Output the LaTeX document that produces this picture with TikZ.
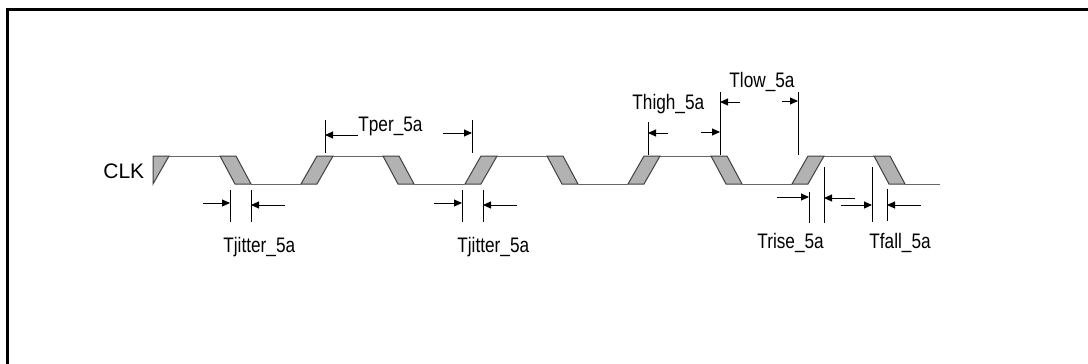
\documentclass[tikz,border=0pt]{standalone}
\usepackage{fontspec}
\setmainfont{Liberation Sans}
\newfontfamily\narrowfont{Liberation Sans}[FakeStretch=0.82]
\usetikzlibrary{arrows.meta}
\begin{document}
\begin{tikzpicture}[x=0.5pt, y=-0.5pt,
	edge/.style={fill=black!30, draw=black!75, line width=0.5pt},
	level/.style={draw=black!60, line width=0.5pt},
	tick/.style={line width=0.5pt},
	dim/.style={line width=0.5pt, -{Triangle[length=4pt,width=3.5pt]}},
	lbl/.style={font=\narrowfont\fontsize{10.5}{12}\selectfont, inner sep=0pt, anchor=base west}]
		\useasboundingbox (0,0) rectangle (1088,364);
		\draw[line width=1.5pt] (7.5,364) -- (7.5,9.5) -- (1088,9.5);
		% clock edges
		\filldraw[edge] (153,156) -- (169,156) -- (153,184) -- cycle;
		\filldraw[edge] (220,156) -- (236,156) -- (251,184) -- (235,184) -- cycle;
		\filldraw[edge] (301,184) -- (317,184) -- (333,156) -- (317,156) -- cycle;
		\filldraw[edge] (383,156) -- (399,156) -- (414,184) -- (398,184) -- cycle;
		\filldraw[edge] (465,184) -- (481,184) -- (497,156) -- (481,156) -- cycle;
		\filldraw[edge] (547,156) -- (563,156) -- (578,184) -- (562,184) -- cycle;
		\filldraw[edge] (628,184) -- (644,184) -- (660,156) -- (644,156) -- cycle;
		\filldraw[edge] (711,156) -- (727,156) -- (742,184) -- (726,184) -- cycle;
		\filldraw[edge] (792,184) -- (808,184) -- (824,156) -- (808,156) -- cycle;
		\filldraw[edge] (874,156) -- (890,156) -- (905,184) -- (889,184) -- cycle;
		\draw[level] (169,156) -- (220,156) (251,184) -- (301,184) (333,156) -- (383,156)
		(414,184) -- (465,184) (497,156) -- (547,156) (578,184) -- (628,184)
		(660,156) -- (711,156) (742,184) -- (792,184) (824,156) -- (874,156) (905,184) -- (940,184);
		% labels
		\node[lbl, font=\fontsize{10.5}{12}\selectfont] (clk) at (103,178) {CLK};
		\node[lbl] (jit1) at (223,252.5) {Tjitter\_5a};
		\node[lbl] (jit2) at (457,252.5) {Tjitter\_5a};
		\node[lbl] (per) at (358,131) {Tper\_5a};
		\node[lbl] (high) at (632,109) {Thigh\_5a};
		\node[lbl] (low) at (729,87) {Tlow\_5a};
		\node[lbl] (rise) at (757,248) {Trise\_5a};
		\node[lbl] (fall) at (869,248) {Tfall\_5a};
		% ticks
		\coordinate (j1) at (230,190); \coordinate (j1') at (230,222);
		\coordinate (j2) at (251,190); \coordinate (j2') at (251,222);
		\coordinate (j3) at (462,190); \coordinate (j3') at (462,222);
		\coordinate (j4) at (483,190); \coordinate (j4') at (483,222);
		\coordinate (p1) at (325,120); \coordinate (p1') at (325,153);
		\coordinate (p2) at (472,120); \coordinate (p2') at (472,153);
		\coordinate (h1) at (648,122); \coordinate (h1') at (648,155);
		\coordinate (h2) at (720,92); \coordinate (h2') at (720,155);
		\coordinate (l2) at (798,92); \coordinate (l2') at (798,155);
		\coordinate (r1) at (809,192); \coordinate (r1') at (809,223);
		\coordinate (r2) at (824,167); \coordinate (r2') at (824,223);
		\coordinate (f1) at (872,167); \coordinate (f1') at (872,222);
		\coordinate (f2) at (887,189); \coordinate (f2') at (887,221);
		\draw[tick] (j1)--(j1') (j2)--(j2') (j3)--(j3') (j4)--(j4') (p1)--(p1') (p2)--(p2')
		(h1)--(h1') (h2)--(h2') (l2)--(l2') (r1)--(r1') (r2)--(r2') (f1)--(f1') (f2)--(f2');
		% arrows
		\coordinate (ja) at (203,203); \coordinate (ja') at (230,203);
		\coordinate (jb) at (285,205); \coordinate (jb') at (251,205);
		\coordinate (jc) at (434,203); \coordinate (jc') at (462,203);
		\coordinate (jd) at (517,205); \coordinate (jd') at (483,205);
		\coordinate (pa) at (358,135); \coordinate (pa') at (325,135);
		\coordinate (pb) at (443,133); \coordinate (pb') at (472,133);
		\coordinate (ha) at (668,133); \coordinate (ha') at (648,133);
		\coordinate (hb) at (701,132); \coordinate (hb') at (720,132);
		\coordinate (la) at (740,102); \coordinate (la') at (720,102);
		\coordinate (lb) at (782,101); \coordinate (lb') at (798,101);
		\coordinate (ra) at (777,197); \coordinate (ra') at (809,197);
		\coordinate (rb) at (855,198); \coordinate (rb') at (824,198);
		\coordinate (fa) at (841,205); \coordinate (fa') at (872,205);
		\coordinate (fb) at (921,205); \coordinate (fb') at (887,205);
		\draw[dim] (ja)--(ja'); \draw[dim] (jb)--(jb'); \draw[dim] (jc)--(jc'); \draw[dim] (jd)--(jd');
		\draw[dim] (pa)--(pa'); \draw[dim] (pb)--(pb'); \draw[dim] (ha)--(ha'); \draw[dim] (hb)--(hb');
		\draw[dim] (la)--(la'); \draw[dim] (lb)--(lb'); \draw[dim] (ra)--(ra'); \draw[dim] (rb)--(rb');
		\draw[dim] (fa)--(fa'); \draw[dim] (fb)--(fb');
	\end{tikzpicture}
\end{document}
